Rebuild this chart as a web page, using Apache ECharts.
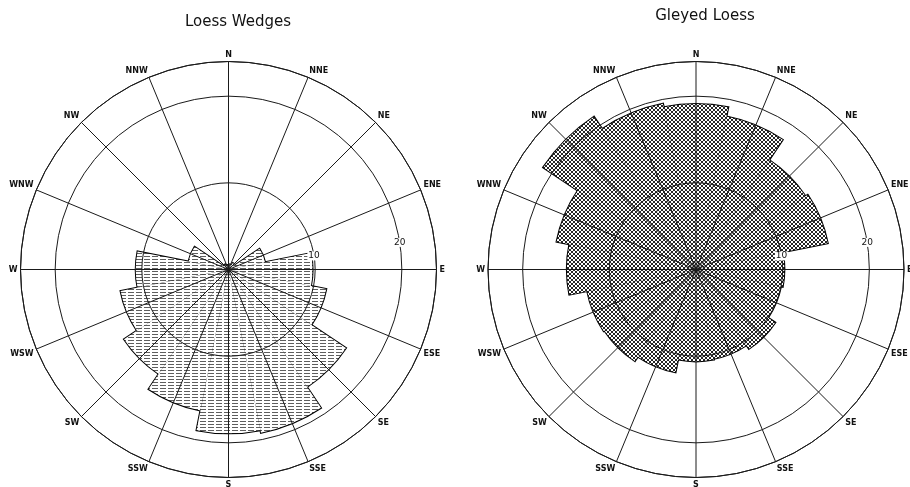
<!DOCTYPE html>
<html>
<head>
<meta charset="utf-8">
<script src="https://cdn.jsdelivr.net/npm/echarts@6/dist/echarts.min.js"></script>
<style>
html,body{margin:0;padding:0;background:#fff;}
#chart{width:910px;height:487px;}
</style>
</head>
<body>
<div id="chart"></div>
<script>
// ---- data ----
const directions = ['N','NNE','NE','ENE','E','ESE','SE','SSE','S','SSW','SW','WSW','W','WNW','NW','NNW'];
const loessWedges = [0.5,0.6,0.9,4.3,9.7,11.5,16.3,19.2,18.9,16.6,14.5,12.7,10.7,4.7,0.7,0.5];
const gleyedLoess = [19.1,18.0,15.2,15.5,10.2,10.0,11.0,10.5,10.6,12.1,12.7,12.8,14.9,16.4,21.2,19.5];
const titles = ['Loess Wedges','Gleyed Loess'];
const radiusTicks = [10,20];
const radiusMax = 24;

// ---- fill patterns ----
function hatchPattern(){
  const c=document.createElement('canvas'); c.width=8; c.height=3;
  const g=c.getContext('2d');
  g.fillStyle='#fff'; g.fillRect(0,0,8,3);
  g.fillStyle='#5e5e5e'; g.fillRect(0,1,6,1);
  return c;
}
function crossPattern(){
  const c=document.createElement('canvas'); c.width=4; c.height=4;
  const g=c.getContext('2d');
  g.fillStyle='#fff'; g.fillRect(0,0,4,4);
  g.fillStyle='#262626';
  for(let i=0;i<4;i++){ g.fillRect(i,i,1,1); g.fillRect(3-i,i,1,1); }
  return c;
}

const LINE='#1a1a1a';
const charts=[
  {center:[228.5,269.5], radius:208, data:loessWedges, fill:{image:hatchPattern(),repeat:'repeat'}},
  {center:[696,269.5], radius:208, data:gleyedLoess, fill:{image:crossPattern(),repeat:'repeat'}}
];

const polar=[], angleAxis=[], radiusAxis=[], series=[];
charts.forEach((ch,k)=>{
  const base=polar.length;
  for(let i=0;i<3;i++) polar.push({center:ch.center, radius:ch.radius});
  // A: bars
  angleAxis.push({polarIndex:base, type:'category', data:directions, startAngle:90+360/directions.length/2,
    axisLine:{show:false}, axisTick:{show:false}, axisLabel:{show:false}, splitLine:{show:false}});
  radiusAxis.push({polarIndex:base, type:'value', min:0, max:radiusMax, show:false,
    axisLine:{show:false}, axisTick:{show:false}, axisLabel:{show:false}, splitLine:{show:false}});
  // B: grid, spokes, direction labels
  angleAxis.push({polarIndex:base+1, type:'value', min:0, max:360, interval:360/directions.length, startAngle:90, z:5,
    axisLine:{show:true, lineStyle:{color:LINE,width:1}},
    axisTick:{show:false},
    axisLabel:{show:true, margin:3, color:'#111', fontSize:8, fontWeight:'bold', fontFamily:'DejaVu Sans',
      formatter:v=>{const i=Math.round(v/(360/directions.length)); return i>=directions.length?'':directions[i];}},
    splitLine:{show:true, lineStyle:{color:LINE,width:1}}});
  radiusAxis.push({polarIndex:base+1, type:'value', min:0, max:radiusMax, interval:10, z:5,
    axisLine:{show:false}, axisTick:{show:false}, axisLabel:{show:false},
    splitLine:{show:true, lineStyle:{color:LINE,width:1}}});
  // C: radial scale labels
  angleAxis.push({polarIndex:base+2, type:'value', min:0, max:360, startAngle:9, z:6,
    axisLine:{show:false}, axisTick:{show:false}, axisLabel:{show:false}, splitLine:{show:false}});
  radiusAxis.push({polarIndex:base+2, type:'value', min:0, max:radiusMax, interval:10, z:6,
    axisLine:{show:false}, axisTick:{show:false}, splitLine:{show:false},
    axisLabel:{show:true, margin:0, align:'center', verticalAlign:'middle', color:'#111', fontSize:9, fontFamily:'DejaVu Sans',
      backgroundColor:'#fff', padding:[0,1],
      formatter:v=>radiusTicks.includes(v)?String(v):''}});
  // bars: outline pass + fill pass
  series.push({type:'bar', coordinateSystem:'polar', polarIndex:base, data:ch.data, barCategoryGap:'0%', barGap:'-100%', z:2,
    itemStyle:{color:ch.fill, borderColor:'#000', borderWidth:2}, silent:true});
  series.push({type:'bar', coordinateSystem:'polar', polarIndex:base, data:ch.data, barCategoryGap:'0%', barGap:'-100%', z:3,
    itemStyle:{color:ch.fill, borderWidth:0}, silent:true});
});

const option={
  backgroundColor:'#fff',
  animation:false,
  title:[
    {text:titles[0], left:233, top:10, textAlign:'center',
     textStyle:{fontSize:15, fontWeight:'normal', color:'#111', fontFamily:'DejaVu Sans'}},
    {text:titles[1], left:700, top:4, textAlign:'center',
     textStyle:{fontSize:15, fontWeight:'normal', color:'#111', fontFamily:'DejaVu Sans'}}
  ],
  polar, angleAxis, radiusAxis, series
};
const chart=echarts.init(document.getElementById('chart'),null,{renderer:'canvas'});
chart.setOption(option);
</script>
</body>
</html>
